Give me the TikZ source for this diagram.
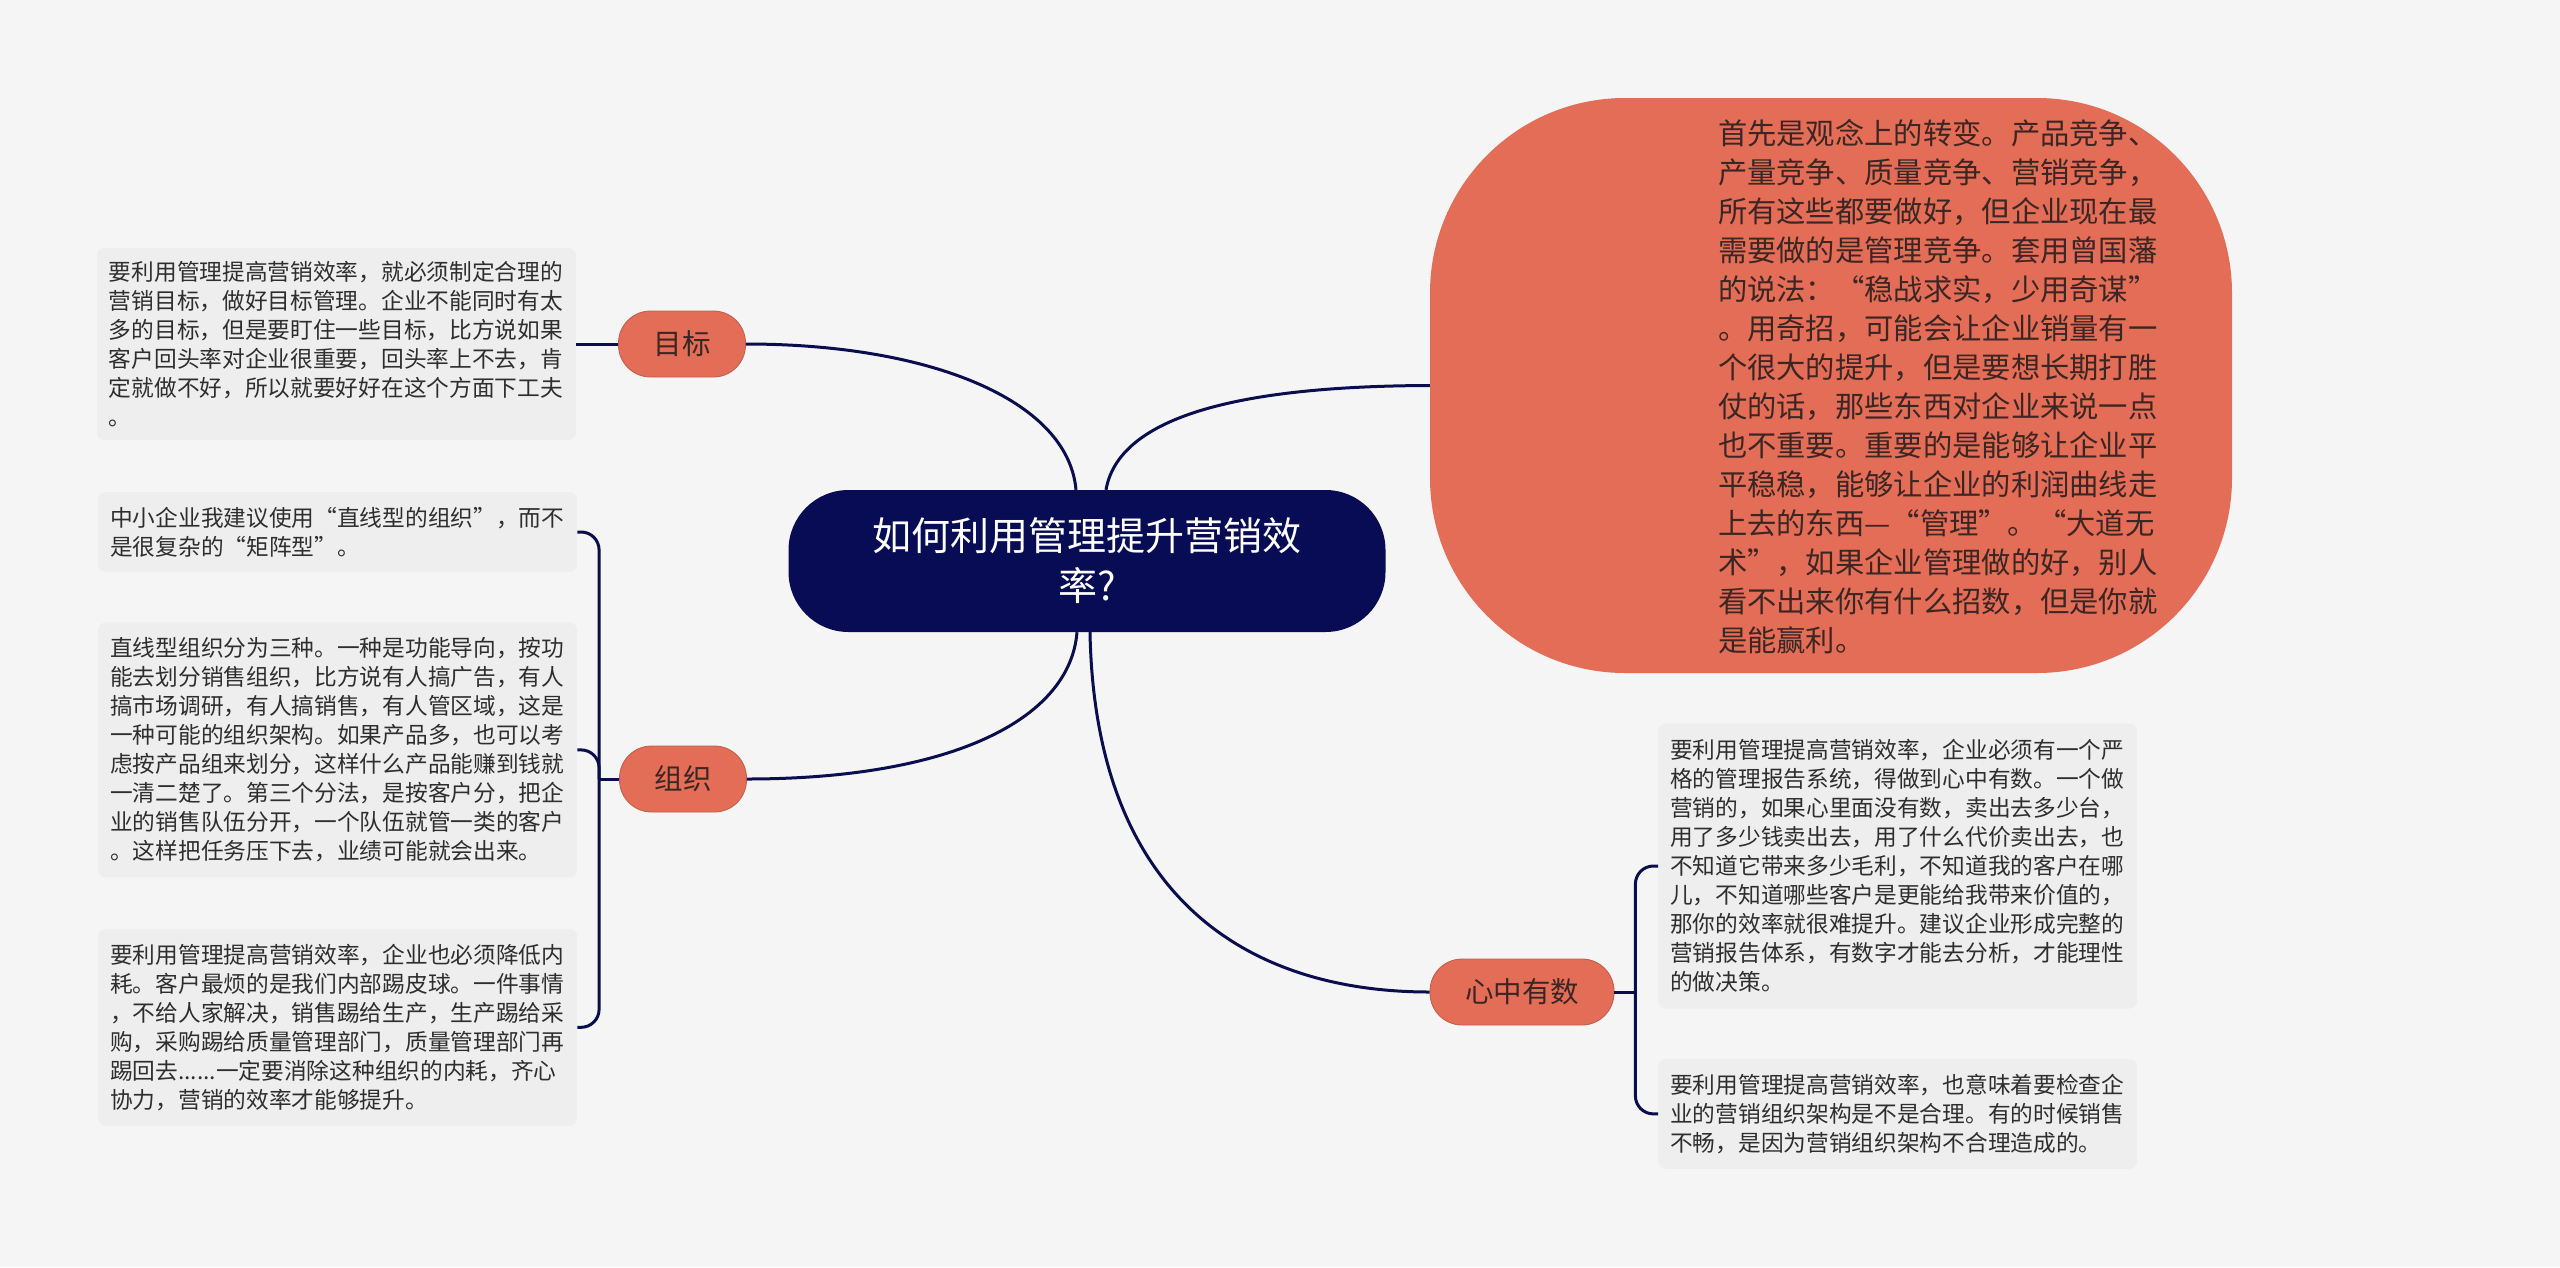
\documentclass[tikz,border=0pt]{standalone}
\usepackage{fontspec}
\newfontfamily\cjkfont{Noto Sans CJK SC}
\usetikzlibrary{calc,positioning}
\definecolor{MapNavy}{HTML}{080C55}
\definecolor{MapLine}{HTML}{0B0E4E}
\definecolor{MapSalmon}{HTML}{E36D57}
\definecolor{MapNote}{HTML}{EEEEEE}
\definecolor{MapPaper}{HTML}{F5F5F5}
\definecolor{MapInk}{HTML}{2E2E2E}
\definecolor{MapBrown}{HTML}{3B2624}

\begin{document}
\begin{tikzpicture}[
  x=1pt, y=-1pt,
  node distance=50pt and 42pt,
  root/.style={fill=MapNavy, text=white, rounded corners=60pt, align=center,
    minimum width=597pt, minimum height=142pt,
    font=\cjkfont\fontsize{39}{50}\selectfont},
  topic/.style={fill=MapSalmon, draw=MapSalmon!85!black, line width=0.8pt,
    rounded corners=32pt, minimum height=66pt, inner xsep=35pt, text=MapBrown,
    font=\cjkfont\fontsize{28.5}{34}\selectfont},
  bubble/.style={fill=MapSalmon, rounded corners=195pt,
    minimum width=802pt, minimum height=575pt},
  bubbletext/.style={text=MapBrown, align=left, text width=442pt, inner sep=0pt,
    font=\cjkfont\fontsize{29.3}{39}\selectfont},
  note/.style={fill=MapNote, rounded corners=8pt, text=MapInk, align=left,
    text width=455pt, inner xsep=12pt, inner ysep=0pt,
    font=\cjkfont\fontsize{22.7}{29}\selectfont},
  link/.style={draw=MapLine, line width=3pt}
]
\fill[MapPaper] (0,0) rectangle (2560,1267);
\useasboundingbox (0,0) rectangle (2560,1267);

\node[root] (root) at (1087,561) {如何利用管理提升营销效\\率?};

\node[topic] (goal) at (682,344) {目标};
\node[topic] (org) at (683,779) {组织};
\node[topic] (digits) at (1522,992) {心中有数};
\node[bubble] (bubble) at (1831,385.5) {};
\node[bubbletext] (bubbletext) at (1939,386.5) {首先是观念上的转变。产品竞争、\\产量竞争、质量竞争、营销竞争，\\所有这些都要做好，但企业现在最\\需要做的是管理竞争。套用曾国藩\\的说法：“稳战求实，少用奇谋”\\。用奇招，可能会让企业销量有一\\个很大的提升，但是要想长期打胜\\仗的话，那些东西对企业来说一点\\也不重要。重要的是能够让企业平\\平稳稳，能够让企业的利润曲线走\\上去的东西—“管理”。“大道无\\术”，如果企业管理做的好，别人\\看不出来你有什么招数，但是你就\\是能赢利。};

\node[note, minimum height=192pt, left=42pt of goal] (goalnote) {要利用管理提高营销效率，就必须制定合理的\\营销目标，做好目标管理。企业不能同时有太\\多的目标，但是要盯住一些目标，比方说如果\\客户回头率对企业很重要，回头率上不去，肯\\定就做不好，所以就要好好在这个方面下工夫\\。};

\node[note, minimum height=80pt, anchor=west] (orgnoteA) at (98,532) {中小企业我建议使用“直线型的组织”，而不\\是很复杂的“矩阵型”。};
\node[note, minimum height=255pt, below=of orgnoteA] (orgnoteB) {直线型组织分为三种。一种是功能导向，按功\\能去划分销售组织，比方说有人搞广告，有人\\搞市场调研，有人搞销售，有人管区域，这是\\一种可能的组织架构。如果产品多，也可以考\\虑按产品组来划分，这样什么产品能赚到钱就\\一清二楚了。第三个分法，是按客户分，把企\\业的销售队伍分开，一个队伍就管一类的客户\\。这样把任务压下去，业绩可能就会出来。};
\node[note, minimum height=197pt, below=51pt of orgnoteB] (orgnoteC) {要利用管理提高营销效率，企业也必须降低内\\耗。客户最烦的是我们内部踢皮球。一件事情\\，不给人家解决，销售踢给生产，生产踢给采\\购，采购踢给质量管理部门，质量管理部门再\\踢回去......一定要消除这种组织的内耗，齐心\\协力，营销的效率才能够提升。};

\node[note, minimum height=285pt, anchor=west] (digitsnoteA) at (1658,866) {要利用管理提高营销效率，企业必须有一个严\\格的管理报告系统，得做到心中有数。一个做\\营销的，如果心里面没有数，卖出去多少台，\\用了多少钱卖出去，用了什么代价卖出去，也\\不知道它带来多少毛利，不知道我的客户在哪\\儿，不知道哪些客户是更能给我带来价值的，\\那你的效率就很难提升。建议企业形成完整的\\营销报告体系，有数字才能去分析，才能理性\\的做决策。};
\node[note, minimum height=110pt, below=of digitsnoteA] (digitsnoteB) {要利用管理提高营销效率，也意味着要检查企\\业的营销组织架构是不是合理。有的时候销售\\不畅，是因为营销组织架构不合理造成的。};

\draw[link] ($(root.north)+(-11,0)$) .. controls (1068,400) and (930,344) .. (goal.east);
\draw[link] ($(root.north)+(19,0)$) .. controls (1120,410) and (1260,386) .. (bubble.west);
\draw[link] ($(root.south)+(-10,0)$) .. controls (1070,720) and (950,779) .. (org.east);
\draw[link] ($(root.south)+(3,0)$) .. controls (1095,900) and (1250,992) .. (digits.west);

\draw[link] (goal) -- (goalnote);

\coordinate[left=20pt of org] (orgfork);
\draw[link] (org.west) -- (orgfork);
\foreach \n in {orgnoteA,orgnoteB,orgnoteC}
  \draw[link, rounded corners=18pt] (orgfork) |- (\n.east);

\coordinate[right=21pt of digits] (digitsfork);
\draw[link] (digits.east) -- (digitsfork);
\foreach \n in {digitsnoteA,digitsnoteB}
  \draw[link, rounded corners=18pt] (digitsfork) |- (\n.west);
\end{tikzpicture}
\end{document}
